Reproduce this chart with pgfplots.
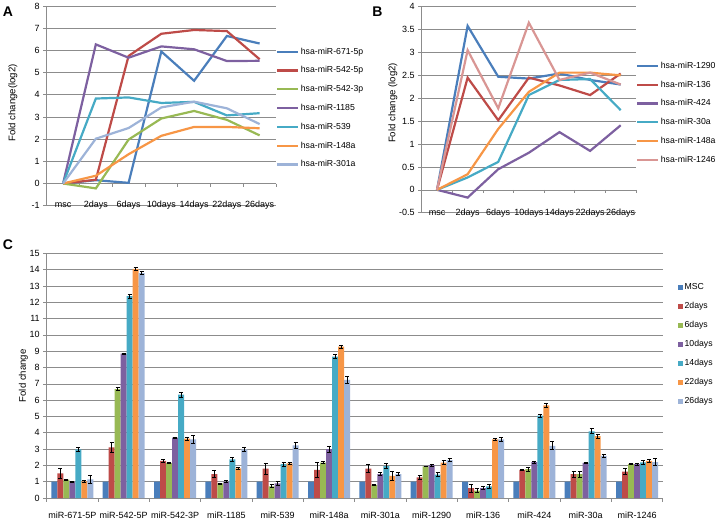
\documentclass[border=0pt]{standalone}
\usepackage{fontspec}
\setmainfont{Liberation Sans}
\usepackage{pgfplots}
\usepackage{pgfplotstable}
\pgfplotsset{compat=1.18}

\definecolor{cB}{HTML}{4A7EBB}
\definecolor{cR}{HTML}{BE4B48}
\definecolor{cG}{HTML}{98B954}
\definecolor{cP}{HTML}{7D60A0}
\definecolor{cT}{HTML}{46AAC5}
\definecolor{cO}{HTML}{F79646}
\definecolor{cL}{HTML}{9DB3D8}
\definecolor{cK}{HTML}{D99694}
\definecolor{gridgray}{HTML}{8C8C8C}

\pgfplotstableread{
x  msc  d2   e2   d6   e6   d10  e10  d14   e14  d22   e22  d26   e26
0  1    1.51 0.30 1.12 0.04 1.00 0.03 2.98  0.10 1.02  0.06 1.14  0.22
1  1    3.10 0.28 6.67 0.10 8.85 0.04 12.38 0.12 14.04 0.08 13.78 0.10
2  1    2.27 0.08 2.15 0.02 3.70 0.04 6.34  0.15 3.64  0.10 3.60  0.25
3  1    1.47 0.22 0.89 0.03 1.00 0.05 2.37  0.14 1.82  0.07 2.98  0.15
4  1    1.80 0.35 0.72 0.10 0.90 0.12 2.08  0.13 2.13  0.06 3.22  0.20
5  1    1.72 0.45 2.17 0.05 2.99 0.20 8.67  0.12 9.28  0.10 7.24  0.22
6  1    1.80 0.25 0.80 0.05 1.46 0.10 1.96  0.15 1.36  0.25 1.47  0.08
7  1    1.27 0.10 1.94 0.02 2.02 0.07 1.43  0.12 2.17  0.12 2.33  0.07
8  1    0.60 0.25 0.46 0.10 0.61 0.08 0.71  0.14 3.60  0.06 3.60  0.10
9  1    1.72 0.03 1.77 0.12 2.20 0.05 5.05  0.10 5.68  0.10 3.20  0.25
10 1    1.46 0.17 1.46 0.17 2.16 0.05 4.09  0.15 3.79  0.12 2.58  0.10
11 1    1.62 0.18 2.10 0.03 2.08 0.07 2.18  0.15 2.27  0.07 2.20  0.22
}\datC

\pgfplotsset{
  excel/.style={
    scale only axis,
    axis lines=left,
    axis line style={-, draw=gridgray, line width=0.6pt},
    ymajorgrids,
    major grid style={gridgray, line width=0.6pt},
    tick align=outside,
    major tick length=3.5pt,
    ytick style={draw=gridgray, line width=0.6pt},
    x tick style={draw=none},
    tick label style={font=\fontsize{9}{10}\selectfont},
    label style={font=\fontsize{9.6}{11}\selectfont},
    /pgf/number format/assume math mode=true,
    clip=false,
  },
  linelegend/.style={
    legend style={draw=none, fill=none, font=\fontsize{8.7}{10}\selectfont,
      row sep=8pt, inner xsep=0pt, inner ysep=0pt, legend cell align=left,
      nodes={inner sep=1.5pt}},
    legend image code/.code={\draw[##1] (0pt,0pt) -- (21pt,0pt);},
  },
}

\begin{document}
\begin{tikzpicture}
\path[use as bounding box] (0,0) rectangle (725pt,-523pt);

% ---------------- Panel A ----------------
\begin{axis}[excel, linelegend,
  at={(46.7pt,-205.7pt)}, anchor=south west,
  width=229.3pt, height=199.7pt,
  xmin=-0.5, xmax=6.5, ymin=-1, ymax=8,
  ytick={-1,0,...,8},
  xtick={0,...,6},
  xticklabels={msc,2days,6days,10days,14days,22days,26days},
  xticklabel style={anchor=base, yshift=1.4pt},
  ylabel={Fold change(log2)},
  ylabel style={at={(axis description cs:-0.147,0.514)}, anchor=center},
  legend style={at={(1,1)}, anchor=north west, yshift=-40pt},
]
\draw[gridgray, line width=0.6pt] (axis cs:-0.5,0) -- (axis cs:6.5,0);
\pgfplotsinvokeforeach{0.5,1.5,...,6.5}{\draw[gridgray, line width=0.6pt] (axis cs:#1,0) -- ([yshift=-3.5pt]axis cs:#1,0);}
\addplot[cB, line width=2.2pt] coordinates {(0,0) (1,0.15) (2,0.03) (3,5.95) (4,4.63) (5,6.65) (6,6.31)};
\addlegendentry{hsa-miR-671-5p}
\addplot[cR, line width=2.2pt] coordinates {(0,0) (1,0.17) (2,5.75) (3,6.75) (4,6.92) (5,6.87) (6,5.6)};
\addlegendentry{hsa-miR-542-5p}
\addplot[cG, line width=2.2pt] coordinates {(0,0) (1,-0.22) (2,1.98) (3,2.93) (4,3.27) (5,2.87) (6,2.17)};
\addlegendentry{hsa-miR-542-3p}
\addplot[cP, line width=2.2pt] coordinates {(0,0) (1,6.27) (2,5.67) (3,6.18) (4,6.05) (5,5.52) (6,5.53)};
\addlegendentry{hsa-miR-1185}
\addplot[cT, line width=2.2pt] coordinates {(0,0) (1,3.83) (2,3.88) (3,3.63) (4,3.68) (5,3.07) (6,3.17)};
\addlegendentry{hsa-miR-539}
\addplot[cO, line width=2.2pt] coordinates {(0,0) (1,0.35) (2,1.32) (3,2.15) (4,2.55) (5,2.55) (6,2.49)};
\addlegendentry{hsa-miR-148a}
\addplot[cL, line width=2.2pt] coordinates {(0,0) (1,2.02) (2,2.5) (3,3.43) (4,3.69) (5,3.39) (6,2.68)};
\addlegendentry{hsa-miR-301a}
\end{axis}

% ---------------- Panel B ----------------
\begin{axis}[excel, linelegend,
  at={(421.7pt,-212.7pt)}, anchor=south west,
  width=214.3pt, height=206pt,
  xmin=-0.5, xmax=6.5, ymin=-0.5, ymax=4,
  ytick={-0.5,0,...,4},
  yticklabels={-0.5,0,0.5,1,1.5,2,2.5,3,3.5,4},
  xtick={0,...,6},
  xticklabels={msc,2days,6days,10days,14days,22days,26days},
  xticklabel style={anchor=base, yshift=0.7pt},
  ylabel={Fold change (log2)},
  ylabel style={at={(axis description cs:-0.134,0.533)}, anchor=center},
  legend style={at={(1,1)}, anchor=north west, yshift=-53.5pt},
]
\draw[gridgray, line width=0.6pt] (axis cs:-0.5,0) -- (axis cs:6.5,0);
\pgfplotsinvokeforeach{0.5,1.5,...,6.5}{\draw[gridgray, line width=0.6pt] (axis cs:#1,0) -- ([yshift=-3.5pt]axis cs:#1,0);}
\addplot[cB, line width=2.2pt] coordinates {(0,0) (1,3.58) (2,2.47) (3,2.43) (4,2.54) (5,2.4) (6,2.3)};
\addlegendentry{hsa-miR-1290}
\addplot[cR, line width=2.2pt] coordinates {(0,0) (1,2.45) (2,1.52) (3,2.45) (4,2.28) (5,2.07) (6,2.54)};
\addlegendentry{hsa-miR-136}
\addplot[cP, line width=2.2pt] coordinates {(0,0) (1,-0.17) (2,0.45) (3,0.81) (4,1.26) (5,0.85) (6,1.41)};
\addlegendentry{hsa-miR-424}
\addplot[cT, line width=2.2pt] coordinates {(0,0) (1,0.27) (2,0.61) (3,2.07) (4,2.4) (5,2.42) (6,1.74)};
\addlegendentry{hsa-miR-30a}
\addplot[cO, line width=2.2pt] coordinates {(0,0) (1,0.34) (2,1.33) (3,2.14) (4,2.56) (5,2.56) (6,2.5)};
\addlegendentry{hsa-miR-148a}
\addplot[cK, line width=2.2pt] coordinates {(0,0) (1,3.05) (2,1.78) (3,3.65) (4,2.4) (5,2.56) (6,2.3)};
\addlegendentry{hsa-miR-1246}
\end{axis}

% ---------------- Panel C ----------------
\begin{axis}[excel,
  at={(46.7pt,-498pt)}, anchor=south west,
  width=616pt, height=244.7pt,
  ybar=0pt, bar width=0.117,
  xmin=-0.5, xmax=11.5, ymin=0, ymax=15,
  ytick={0,1,...,15},
  xtick={0,...,11},
  xticklabels={miR-671-5P,miR-542-5P,miR-542-3P,miR-1185,miR-539,miR-148a,miR-301a,miR-1290,miR-136,miR-424,miR-30a,miR-1246},
  xticklabel style={yshift=-7pt, font=\fontsize{9}{10}\selectfont},
  extra x ticks={-0.5,0.5,...,11.5},
  extra x tick labels={},
  extra x tick style={x tick style={draw=gridgray, line width=0.6pt}, major tick length=3.5pt},
  ylabel={Fold change},
  ylabel style={at={(axis description cs:-0.038,0.499)}, anchor=center},
  legend style={draw=none, fill=none, font=\fontsize{8.7}{10}\selectfont,
    at={(1,1)}, anchor=north west, xshift=15pt, yshift=-28.5pt,
    row sep=8.2pt, inner xsep=0pt, inner ysep=0pt, legend cell align=left,
    nodes={inner sep=1.5pt}},
  legend image code/.code={\path[#1, draw=none] (0pt,-2.6pt) rectangle (5.2pt,2.6pt);},
  error bars/y dir=both, error bars/y explicit,
  error bars/error bar style={black, line width=0.8pt},
  error bars/error mark options={black, rotate=90, mark size=2pt, line width=0.8pt},
]
\addplot[fill=cB, draw=none, error bars/y dir=none] table[x=x, y=msc] {\datC};
\addlegendentry{MSC}
\addplot[fill=cR, draw=none] table[x=x, y=d2, y error=e2] {\datC};
\addlegendentry{2days}
\addplot[fill=cG, draw=none] table[x=x, y=d6, y error=e6] {\datC};
\addlegendentry{6days}
\addplot[fill=cP, draw=none] table[x=x, y=d10, y error=e10] {\datC};
\addlegendentry{10days}
\addplot[fill=cT, draw=none] table[x=x, y=d14, y error=e14] {\datC};
\addlegendentry{14days}
\addplot[fill=cO, draw=none] table[x=x, y=d22, y error=e22] {\datC};
\addlegendentry{22days}
\addplot[fill=cL, draw=none] table[x=x, y=d26, y error=e26] {\datC};
\addlegendentry{26days}
\end{axis}

% panel letters
\node[font=\fontsize{14}{16}\selectfont\bfseries] at (8pt,-12pt) {A};
\node[font=\fontsize{14}{16}\selectfont\bfseries] at (377.5pt,-11.5pt) {B};
\node[font=\fontsize{14}{16}\selectfont\bfseries] at (8pt,-244.5pt) {C};
\end{tikzpicture}
\end{document}
